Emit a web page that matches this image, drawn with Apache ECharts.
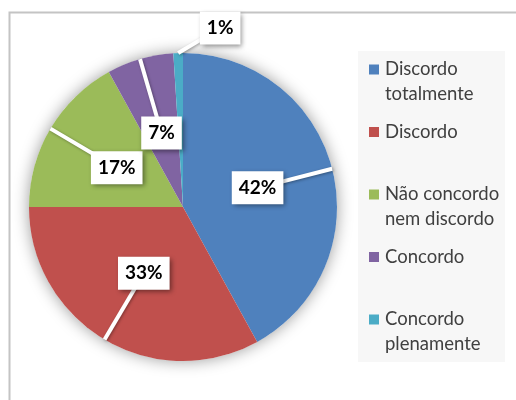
<!DOCTYPE html>
<html>
<head>
<meta charset="utf-8">
<script src="https://cdn.jsdelivr.net/npm/echarts@6/dist/echarts.min.js"></script>
<style>
  html, body { margin: 0; padding: 0; background: #fff; }
  #chart { width: 516px; height: 400px; }
</style>
</head>
<body>
<div id="chart"></div>
<script>
const categories = ['Discordo\ntotalmente', 'Discordo', 'Não concordo\nnem discordo', 'Concordo', 'Concordo\nplenamente']
const values = [42, 33, 17, 7, 1]
const colors = ['#4F81BD', '#C0504D', '#9BBB59', '#8064A2', '#4BACC6']

const cx = 183
const cy = 207
const R = 154
const total = values.reduce((a, b) => a + b, 0)

// mid angle of slice i, clockwise from 12 o'clock
const midAngle = (i) => {
  let acc = 0
  for (let k = 0; k < i; k++) acc += values[k]
  return (acc + values[i] / 2) / total * Math.PI * 2
}

const rich = {
  s: { width: 10, lineHeight: 25 },
  t: { fontFamily: 'Lato', fontSize: 18.5, lineHeight: 25, color: '#404040', padding: [0, 0, 0, 6] }
}
colors.forEach((c, i) => {
  rich['m' + i] = { width: 10, height: 10, lineHeight: 25, backgroundColor: c, verticalAlign: 'middle' }
})

const pieData = categories.map((name, i) => ({ name: name, value: values[i], itemStyle: { color: colors[i] } }))

const chart = echarts.init(document.getElementById('chart'))
chart.setOption({
  animation: false,
  backgroundColor: '#fff',
  graphic: [
    { type: 'rect', left: 7, top: 10, shape: { width: 520, height: 400 }, style: { fill: 'none', stroke: '#c4c4c4', lineWidth: 2 }, silent: true },
    { type: 'rect', left: 358, top: 51, shape: { width: 147, height: 311 }, style: { fill: '#f7f7f7' }, silent: true, z: -1 }
  ],
  legend: {
    orient: 'vertical',
    left: 364,
    top: 57,
    padding: 0,
    itemGap: 12.5,
    itemWidth: 0,
    itemHeight: 0,
    icon: 'rect',
    selectedMode: false,
    data: categories,
    formatter: (name) => {
      const i = categories.indexOf(name)
      const lines = name.split('\n')
      if (lines.length < 2) lines.push(' ')
      return lines.map((l, k) => (k === 0 ? '{m' + i + '|}' : '{s|}') + '{t|' + l + '}').join('\n')
    },
    textStyle: { lineHeight: 25, rich: rich }
  },
  series: [
    {
      // soft shadow behind the pie
      type: 'pie',
      silent: true,
      z: 1,
      center: [cx, cy],
      radius: R,
      label: { show: false },
      labelLine: { show: false },
      data: [{ value: 1, name: '', itemStyle: { color: '#fff', shadowBlur: 16, shadowColor: 'rgba(0,0,0,0.4)' } }]
    },
    {
      type: 'pie',
      z: 2,
      center: [cx, cy],
      radius: R,
      startAngle: 90,
      clockwise: true,
      emphasis: { disabled: true },
      label: { show: false },
      labelLine: { show: false },
      data: pieData
    },
    {
      // transparent copy carrying the callout labels, drawn above the slices
      type: 'pie',
      z: 3,
      silent: true,
      center: [cx, cy],
      radius: R,
      startAngle: 90,
      clockwise: true,
      avoidLabelOverlap: false,
      emphasis: { disabled: true },
      itemStyle: { color: 'rgba(0,0,0,0)' },
      data: categories.map((name, i) => ({ name: name, value: values[i] })),
      label: {
        show: true,
        position: 'outside',
        formatter: (p) => Math.round(p.percent) + '%',
        fontFamily: 'Lato',
        fontWeight: 'bold',
        fontSize: 19,
        lineHeight: 22,
        color: '#000',
        backgroundColor: '#fff',
        padding: [6, 7, 5, 7],
        shadowBlur: 5,
        shadowOffsetX: 2,
        shadowOffsetY: 2,
        shadowColor: 'rgba(0,0,0,0.45)'
      },
      labelLine: {
        show: true,
        length: 10,
        length2: 10,
        lineStyle: { color: '#fff', width: 4, shadowBlur: 3, shadowColor: 'rgba(0,0,0,0.35)', shadowOffsetX: 1, shadowOffsetY: 1 }
      },
      labelLayout: (params) => {
        const i = params.dataIndex
        const a = midAngle(i)
        const edge = [cx + R * Math.sin(a), cy - R * Math.cos(a)]
        let pos = [cx + 0.5 * R * Math.sin(a), cy - 0.5 * R * Math.cos(a)]
        // tiny slice: label pushed out above the pie
        if (values[i] / total < 0.03) pos = [edge[0] + 42, edge[1] - 25]
        return {
          x: pos[0],
          y: pos[1],
          align: 'center',
          verticalAlign: 'middle',
          labelLinePoints: [edge, pos, pos]
        }
      }
    }
  ]
})
</script>
</body>
</html>
